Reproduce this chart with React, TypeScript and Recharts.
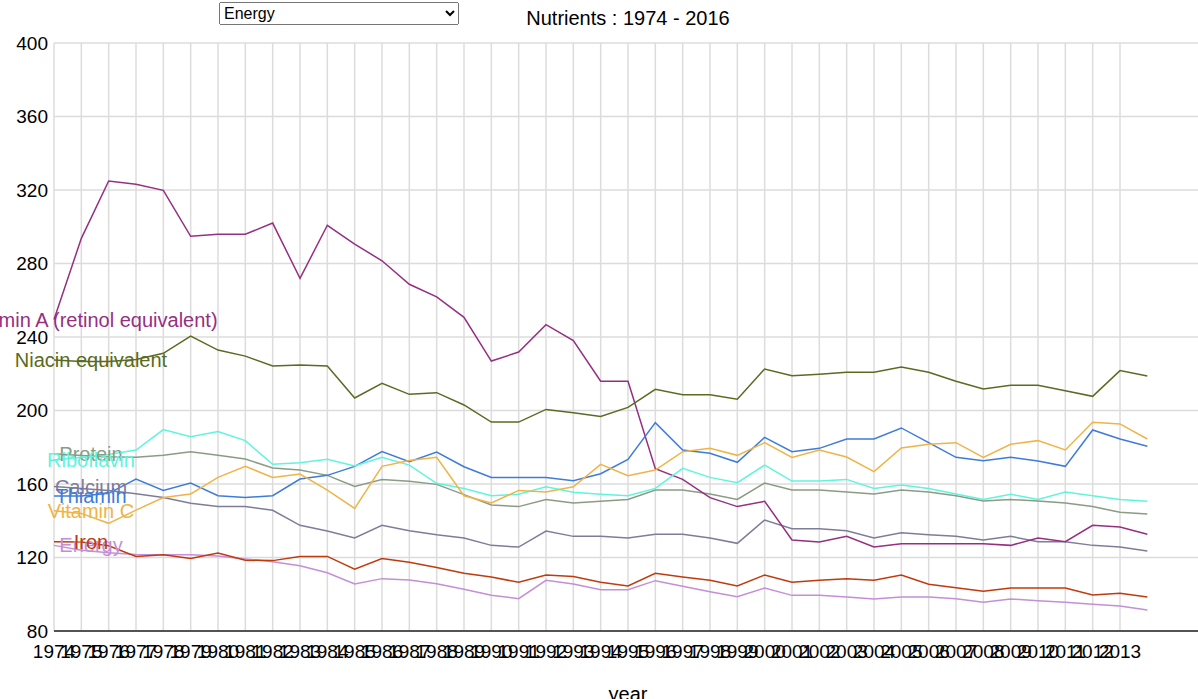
import { LineChart, Line, XAxis, YAxis, CartesianGrid } from 'recharts';

const FONT = '"Liberation Sans", Arial, sans-serif';

const years = [
  1974, 1975, 1976, 1977, 1978, 1979, 1980, 1981, 1982, 1983, 1984, 1985, 1986, 1987,
  1988, 1989, 1990, 1991, 1992, 1993, 1994, 1995, 1996, 1997, 1998, 1999, 2000, 2001,
  2002, 2003, 2004, 2005, 2006, 2007, 2008, 2009, 2010, 2011, 2012, 2013, 2014,
];
const xTicks = years.slice(0, 40);
const yTicks = [80, 120, 160, 200, 240, 280, 320, 360, 400];

const energy = [126.6, 124, 122.6, 121.7, 121.5, 121.5, 120.8, 119.2, 117.7, 115.5, 111.7, 105.6, 108.5, 107.7, 105.7, 102.7, 99.4, 97.6, 107.6, 105.6, 102.5, 102.5, 107.4, 104.3, 101.4, 98.7, 103.4, 99.4, 99.4, 98.5, 97.4, 98.5, 98.5, 97.6, 95.6, 97.4, 96.5, 95.6, 94.5, 93.6, 91.4];
const protein = [176.5, 175.5, 174.8, 174.5, 175.6, 177.6, 175.6, 173.6, 168.7, 167.6, 164.7, 158.7, 162.5, 161.5, 159.8, 154.2, 148.6, 147.7, 151.6, 149.7, 150.6, 151.6, 156.7, 156.7, 154.6, 151.6, 160.5, 156.7, 156.7, 155.6, 154.6, 156.7, 155.6, 153.6, 150.7, 151.6, 150.7, 149.7, 147.7, 144.6, 143.7];
const calcium = [158.6, 157.5, 156.5, 154.7, 152.6, 149.5, 147.7, 147.7, 145.7, 137.5, 134.4, 130.6, 137.5, 134.6, 132.4, 130.6, 126.6, 125.7, 134.4, 131.5, 131.5, 130.6, 132.6, 132.6, 130.6, 127.7, 140.4, 135.7, 135.7, 134.6, 130.6, 133.5, 132.4, 131.5, 129.5, 131.5, 128.6, 128.6, 126.6, 125.7, 123.5];
const iron = [128.6, 128.4, 126.4, 120.6, 121.5, 119.5, 122.4, 118.5, 118.3, 120.6, 120.6, 113.6, 119.4, 117.4, 114.5, 111.4, 109.4, 106.5, 110.5, 109.6, 106.5, 104.5, 111.4, 109.4, 107.6, 104.5, 110.5, 106.5, 107.6, 108.5, 107.6, 110.5, 105.4, 103.6, 101.6, 103.4, 103.4, 103.4, 99.6, 100.5, 98.5];
const vitaminA = [249.5, 293.7, 324.9, 323.1, 319.8, 294.8, 295.9, 295.9, 302, 271.9, 300.8, 290.5, 281.5, 268.7, 261.8, 250.7, 226.9, 231.8, 246.7, 238, 215.9, 215.9, 168.3, 162.5, 152.6, 147.7, 150.6, 129.5, 128.4, 131.5, 125.7, 127.5, 127.5, 127.5, 127.5, 126.6, 130.6, 128.6, 137.5, 136.6, 132.6];
const thiamin = [153.5, 153.5, 154.9, 162.7, 156.5, 160.5, 153.6, 152.7, 153.6, 162.7, 164.7, 169.6, 177.6, 172.1, 177.4, 169.4, 163.6, 163.6, 163.6, 161.8, 165.6, 173.4, 193.4, 178.5, 176.7, 171.8, 185.4, 177.6, 179.4, 184.5, 184.5, 190.5, 182.5, 174.5, 172.7, 174.5, 172.5, 169.6, 189.4, 184.5, 180.5];
const riboflavin = [173, 174.5, 176, 178.5, 189.6, 185.7, 188.5, 183.6, 170.7, 171.6, 173.4, 169.8, 174.5, 170.3, 160.4, 157.6, 153.6, 154.4, 158.5, 155.5, 154.4, 153.6, 157.6, 168.5, 163.6, 160.7, 170.3, 161.6, 161.6, 162.5, 157.6, 159.5, 157.6, 154.6, 151.6, 154.4, 151.6, 155.6, 153.6, 151.6, 150.6];
const niacin = [227.5, 226.6, 226.6, 227.8, 231.1, 240.5, 232.9, 229.6, 224.2, 224.8, 224.2, 206.8, 214.8, 208.8, 209.7, 203, 193.7, 193.7, 200.6, 198.8, 196.8, 201.7, 211.5, 208.6, 208.6, 206.1, 222.6, 218.9, 219.7, 220.8, 220.8, 223.7, 220.8, 215.9, 211.7, 213.7, 213.7, 210.8, 207.7, 221.7, 218.8];
const vitaminC = [145.5, 144, 138.6, 145.8, 152.6, 154.6, 163.6, 169.6, 163.6, 165.4, 156.7, 146.7, 169.6, 172.8, 174.5, 153.6, 149.7, 156.5, 155.6, 158.5, 170.7, 164.5, 167.6, 177.6, 179.4, 175.6, 182.5, 174.5, 178.5, 174.7, 166.7, 179.6, 181.6, 182.5, 174.5, 181.6, 183.6, 178.5, 193.6, 192.7, 184.5];

const series = [
  { key: 'energy', name: 'Energy', color: '#c48fd6', values: energy },
  { key: 'protein', name: 'Protein', color: '#8a9c84', values: protein },
  { key: 'calcium', name: 'Calcium', color: '#7f7c99', values: calcium },
  { key: 'iron', name: 'Iron', color: '#c13a0e', values: iron },
  { key: 'vitaminA', name: 'Vitamin A (retinol equivalent)', color: '#952f82', values: vitaminA },
  { key: 'thiamin', name: 'Thiamin', color: '#3f7bdb', values: thiamin },
  { key: 'riboflavin', name: 'Riboflavin', color: '#5ef5df', values: riboflavin },
  { key: 'niacin', name: 'Niacin equivalent', color: '#5a6b22', values: niacin },
  { key: 'vitaminC', name: 'Vitamin C', color: '#f0b446', values: vitaminC },
];

const rows = years.map((year, i) => {
  const row: Record<string, number> = { year };
  series.forEach((s) => { row[s.key] = s.values[i]; });
  return row;
});

// series name written next to the first point of each line
const startLabel = (name: string, color: string) => (p: any) => {
  if (p.index !== 0) return <g key={`d-${p.index}`} />;
  return (
    <text
      key={`d-${p.index}`}
      x={p.cx + 37}
      y={p.cy}
      fill={color}
      fontSize={20}
      fontFamily={FONT}
      textAnchor="middle"
      dominantBaseline="central"
    >
      {name}
    </text>
  );
};

export default function App() {
  return (
    <div style={{ position: 'absolute', left: 0, top: 0, width: 1198, height: 699, overflow: 'hidden', fontFamily: FONT, background: '#fff' }}>
      <LineChart width={1210} height={699} data={rows} margin={{ top: 43, right: 8, bottom: 0, left: 0 }}>
        <CartesianGrid stroke="#dcdcdc" strokeWidth={1.5} />
        <XAxis
          type="number"
          dataKey="year"
          domain={[1974, 2016]}
          ticks={xTicks}
          interval={0}
          height={68}
          tickSize={0}
          tickMargin={14}
          axisLine={{ stroke: '#222', strokeWidth: 1.5 }}
          tick={{ fill: '#000', fontSize: 19, fontFamily: FONT }}
          label={{ value: 'year', position: 'insideBottom', offset: -2, fill: '#000', fontSize: 20, fontFamily: FONT }}
        />
        <YAxis
          type="number"
          domain={[80, 400]}
          ticks={yTicks}
          width={54}
          axisLine={false}
          tickLine={false}
          tickSize={0}
          tickMargin={6}
          tick={{ fill: '#000', fontSize: 19, fontFamily: FONT }}
        />
        {series.map((s) => (
          <Line
            key={s.key}
            type="linear"
            dataKey={s.key}
            stroke={s.color}
            strokeWidth={1.5}
            dot={startLabel(s.name, s.color)}
            activeDot={false}
            isAnimationActive={false}
          />
        ))}
      </LineChart>
      <select
        defaultValue="Energy"
        style={{ position: 'absolute', left: 219, top: 2, width: 240, height: 23, fontSize: 16, fontFamily: FONT }}
      >
        {series.map((s) => (
          <option key={s.key} value={s.name}>{s.name}</option>
        ))}
      </select>
      <div style={{ position: 'absolute', left: 428, width: 400, top: 7, textAlign: 'center', fontSize: 20, color: '#000' }}>
        Nutrients : 1974 - 2016
      </div>
    </div>
  );
}
